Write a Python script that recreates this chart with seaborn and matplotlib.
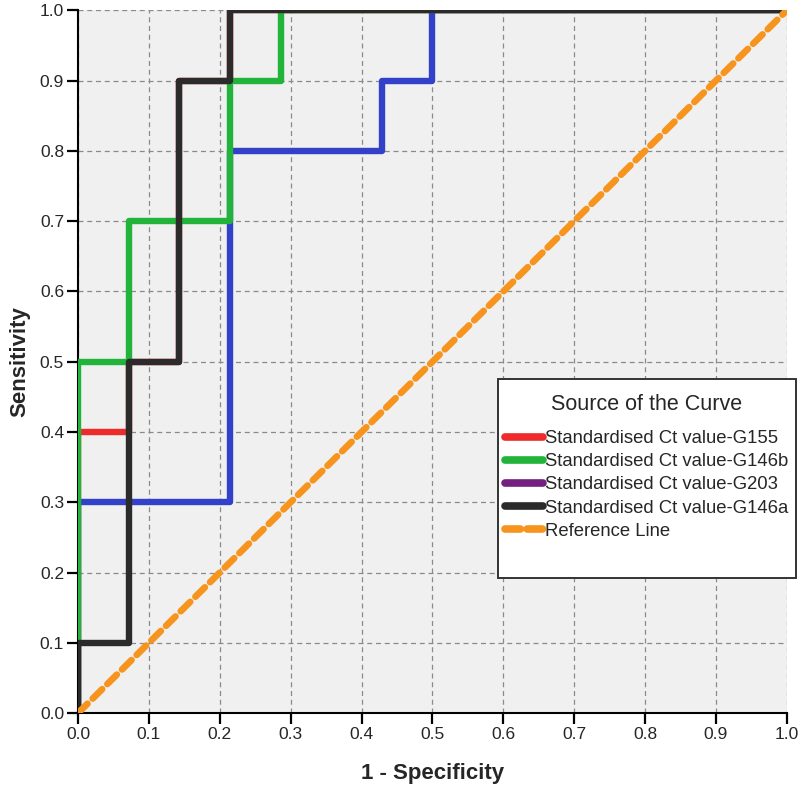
import matplotlib
matplotlib.use("Agg")
import matplotlib.pyplot as plt
import pandas as pd
import seaborn as sns
from matplotlib.lines import Line2D
from matplotlib.patches import Rectangle

# ROC step vertices (14 negatives, 10 positives)
g155_fpr = [0.0, 0.0, 0.0714, 0.0714, 0.1429, 0.1429, 0.2143, 0.2143, 1.0]
g155_tpr = [0.0, 0.4, 0.4, 0.5, 0.5, 0.9, 0.9, 1.0, 1.0]

g146b_fpr = [0.0, 0.0, 0.0714, 0.0714, 0.2143, 0.2143, 0.2857, 0.2857, 1.0]
g146b_tpr = [0.0, 0.5, 0.5, 0.7, 0.7, 0.9, 0.9, 1.0, 1.0]

g203_fpr = [0.0, 0.0, 0.2143, 0.2143, 0.4286, 0.4286, 0.5, 0.5, 1.0]
g203_tpr = [0.0, 0.3, 0.3, 0.8, 0.8, 0.9, 0.9, 1.0, 1.0]

g146a_fpr = [0.0, 0.0, 0.0714, 0.0714, 0.1429, 0.1429, 0.2143, 0.2143, 1.0]
g146a_tpr = [0.0, 0.1, 0.1, 0.5, 0.5, 0.9, 0.9, 1.0, 1.0]

ref_line = [0.0, 1.0]

labels = ["Standardised Ct value-G155", "Standardised Ct value-G146b",
          "Standardised Ct value-G203", "Standardised Ct value-G146a"]
curve_colors = ["#ee2a2a", "#22b33a", "#3340c8", "#2b2b2b"]
legend_colors = ["#ee2a2a", "#22b33a", "#74207e", "#2b2b2b"]
ref_color = "#f7941d"

curves = [(g155_fpr, g155_tpr), (g146b_fpr, g146b_tpr),
          (g203_fpr, g203_tpr), (g146a_fpr, g146a_tpr)]
zorders = [3, 5, 4, 6]

sns.set_style("whitegrid")
plt.rcParams["font.family"] = ["Liberation Sans", "DejaVu Sans"]

fig = plt.figure(figsize=(8, 7.95), dpi=100)
ax = fig.add_axes([0.0975, 0.103, 0.886, 0.884])
ax.set_facecolor("#f0f0f0")

for (fpr, tpr), lab, col, z in zip(curves, labels, curve_colors, zorders):
    df = pd.DataFrame({"fpr": fpr, "tpr": tpr})
    sns.lineplot(data=df, x="fpr", y="tpr", sort=False, estimator=None,
                 color=col, linewidth=4.6, ax=ax, zorder=z,
                 solid_capstyle="round", solid_joinstyle="round")

ref_df = pd.DataFrame({"x": ref_line, "y": ref_line})
sns.lineplot(data=ref_df, x="x", y="y", color=ref_color, linewidth=4.8,
             linestyle=(0, (2.0, 1.1)), dash_capstyle="round", ax=ax, zorder=7)

ax.set_xlim(0, 1)
ax.set_ylim(0, 1)
ticks = [i / 10 for i in range(11)]
ax.set_xticks(ticks)
ax.set_yticks(ticks)
ax.set_xticklabels([f"{t:.1f}" for t in ticks], fontsize=12.5)
ax.set_yticklabels([f"{t:.1f}" for t in ticks], fontsize=12.5)
ax.tick_params(axis="both", direction="out", length=8, width=1.6,
               color="black", left=True, bottom=True, pad=2)
ax.grid(True, linestyle=(0, (4, 3)), color="#8a8a8a", linewidth=0.9)
ax.set_axisbelow(True)

for side in ["top", "right"]:
    ax.spines[side].set_visible(False)
for side in ["left", "bottom"]:
    ax.spines[side].set_color("black")
    ax.spines[side].set_linewidth(1.5)

ax.set_xlabel("1 - Specificity", fontsize=16, fontweight="bold", labelpad=15)
ax.set_ylabel("Sensitivity", fontsize=16, fontweight="bold", labelpad=7)

# legend box (SPSS style, with empty space at the bottom)
box = Rectangle((0.592, 0.192), 0.421, 0.284, transform=ax.transAxes,
                facecolor="white", edgecolor="#333333", linewidth=1.4,
                clip_on=False, zorder=9)
ax.add_patch(box)

handles = [Line2D([0], [0], color=c, linewidth=5.5, solid_capstyle="round")
           for c in legend_colors]
handles.append(Line2D([0], [0], color=ref_color, linewidth=5.5,
                      linestyle=(0, (2, 0.9)), dash_capstyle="round"))
leg = ax.legend(handles, labels + ["Reference Line"], title="Source of the Curve",
                loc="upper left", bbox_to_anchor=(0.594, 0.462),
                fontsize=13.3, title_fontsize=15.5,
                frameon=False, borderaxespad=0, borderpad=0.3,
                handlelength=2.1, handletextpad=0.1, labelspacing=0.33)
leg.get_title().set_ha("center")
leg._legend_box.sep = 11
leg.set_zorder(10)

fig.savefig("out.png", dpi=100)
